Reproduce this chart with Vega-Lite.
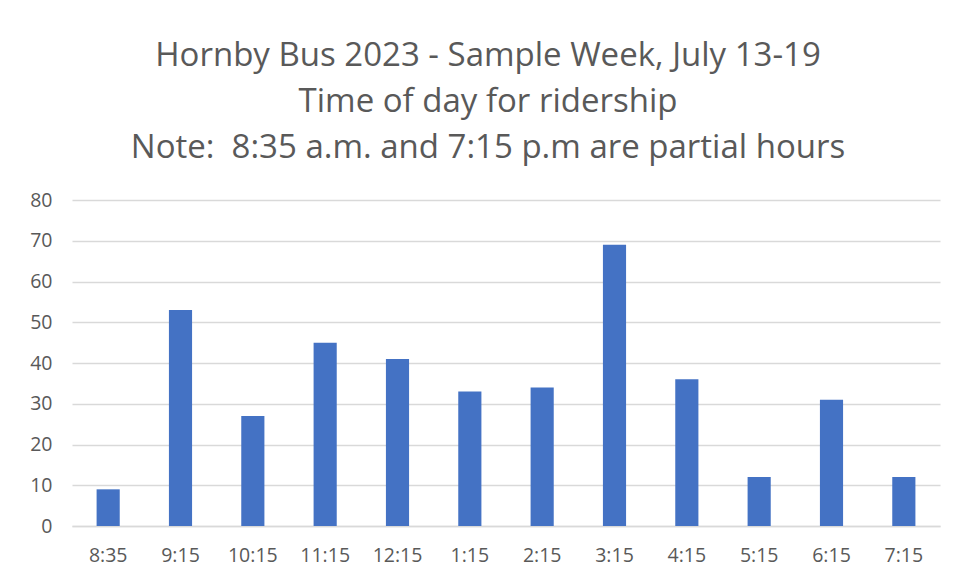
{
  "$schema": "https://vega.github.io/schema/vega-lite/v6.json",
  "autosize": {"type": "none"},
  "width": 868,
  "height": 326,
  "padding": {"left": 72, "top": 200, "right": 20, "bottom": 56},
  "background": "white",
  "title": {
    "text": ["Hornby Bus 2023 - Sample Week, July 13-19", "Time of day for ridership", "Note:\u00a0 8:35 a.m. and 7:15 p.m are partial hours"],
    "font": "Open Sans",
    "fontSize": 33,
    "fontWeight": "normal",
    "color": "#595959",
    "lineHeight": 46,
    "anchor": "middle",
    "dx": -18,
    "offset": 25
  },
  "data": {
    "values": [
      {"time": "8:35", "riders": 9},
      {"time": "9:15", "riders": 53},
      {"time": "10:15", "riders": 27},
      {"time": "11:15", "riders": 45},
      {"time": "12:15", "riders": 41},
      {"time": "1:15", "riders": 33},
      {"time": "2:15", "riders": 34},
      {"time": "3:15", "riders": 69},
      {"time": "4:15", "riders": 36},
      {"time": "5:15", "riders": 12},
      {"time": "6:15", "riders": 31},
      {"time": "7:15", "riders": 12}
    ]
  },
  "mark": {"type": "bar", "color": "#4472C4"},
  "encoding": {
    "x": {
      "field": "time", "type": "nominal", "sort": null, "title": null,
      "scale": {"paddingInner": 0.68, "paddingOuter": 0.34},
      "axis": {"labelAngle": 0, "labelFont": "Open Sans", "labelFontSize": 19.5, "labelColor": "#595959", "labelPadding": 20, "ticks": false, "domainColor": "#d9d9d9", "domainWidth": 1.5}
    },
    "y": {
      "field": "riders", "type": "quantitative", "title": null,
      "scale": {"domain": [0, 80]},
      "axis": {"values": [0, 10, 20, 30, 40, 50, 60, 70, 80], "labelFont": "Open Sans", "labelFontSize": 19.5, "labelColor": "#595959", "labelPadding": 20, "ticks": false, "domain": false, "gridColor": "#d9d9d9", "gridWidth": 1.5}
    }
  },
  "config": {"view": {"stroke": null}}
}
